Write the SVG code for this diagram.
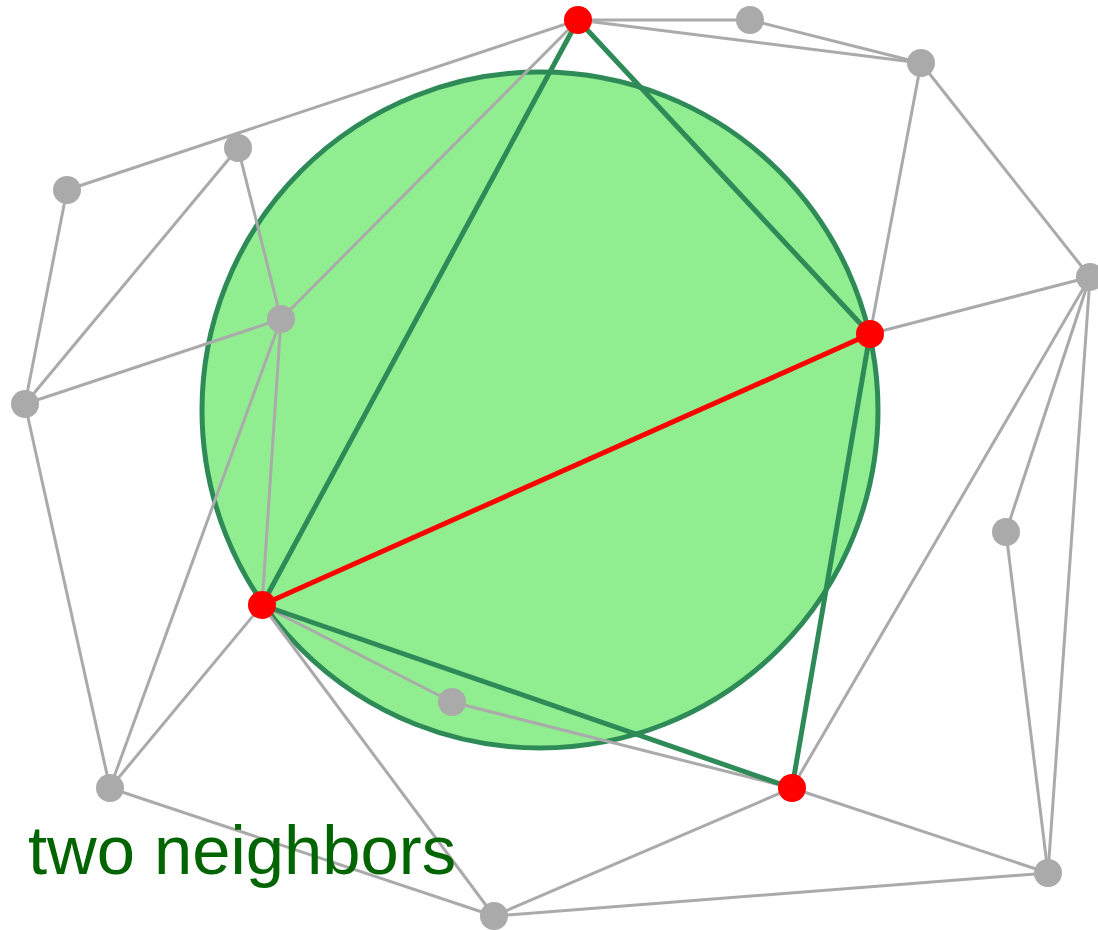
<svg xmlns="http://www.w3.org/2000/svg" width="1098" height="930" viewBox="0 0 1098 930">
<style>
.g{stroke:#aaaaaa;stroke-width:3;fill:none}
.t{stroke:#2e8b57;stroke-width:5;fill:none}
.r{stroke:#ff0000;stroke-width:5;fill:none}
.ng{fill:#aaaaaa}
.nr{fill:#ff0000}
.lbl{font-family:"Liberation Sans",Arial,sans-serif;font-size:68px;fill:#006400}
</style>
<rect width="1098" height="930" fill="#ffffff"/>
<g id="circle"><circle cx="540" cy="410" r="338" fill="#90ee90" stroke="#2e8b57" stroke-width="5"/></g>
<g id="connectors">
<line class="g" x1="578" y1="20" x2="750" y2="20"/>
<line class="g" x1="578" y1="20" x2="921" y2="63"/>
<line class="g" x1="750" y1="20" x2="921" y2="63"/>
<line class="g" x1="578" y1="20" x2="67" y2="190"/>
<line class="g" x1="578" y1="20" x2="281" y2="319"/>
<line class="g" x1="921" y1="63" x2="870" y2="334"/>
<line class="g" x1="921" y1="63" x2="1090" y2="277"/>
<line class="g" x1="870" y1="334" x2="1090" y2="277"/>
<line class="g" x1="1090" y1="277" x2="792" y2="788"/>
<line class="g" x1="1090" y1="277" x2="1006" y2="532"/>
<line class="g" x1="1090" y1="277" x2="1048" y2="873"/>
<line class="g" x1="1006" y1="532" x2="1048" y2="873"/>
<line class="g" x1="238" y1="148" x2="281" y2="319"/>
<line class="g" x1="238" y1="148" x2="25" y2="404"/>
<line class="g" x1="67" y1="190" x2="25" y2="404"/>
<line class="g" x1="281" y1="319" x2="25" y2="404"/>
<line class="g" x1="281" y1="319" x2="262" y2="605"/>
<line class="g" x1="281" y1="319" x2="110" y2="788"/>
<line class="g" x1="25" y1="404" x2="110" y2="788"/>
<line class="g" x1="262" y1="605" x2="110" y2="788"/>
<line class="g" x1="262" y1="605" x2="452" y2="702"/>
<line class="g" x1="262" y1="605" x2="494" y2="916"/>
<line class="g" x1="452" y1="702" x2="792" y2="788"/>
<line class="g" x1="110" y1="788" x2="494" y2="916"/>
<line class="g" x1="494" y1="916" x2="792" y2="788"/>
<line class="g" x1="494" y1="916" x2="1048" y2="873"/>
<line class="g" x1="792" y1="788" x2="1048" y2="873"/>
<line class="t" x1="578" y1="20" x2="262" y2="605"/>
<line class="t" x1="578" y1="20" x2="870" y2="334"/>
<line class="t" x1="870" y1="334" x2="792" y2="788"/>
<line class="t" x1="262" y1="605" x2="792" y2="788"/>
<line class="r" x1="262" y1="605" x2="870" y2="334"/>
</g>
<g id="nA"><circle class="nr" cx="578" cy="20" r="14"/></g>
<g id="nB"><circle class="ng" cx="750" cy="20" r="14"/></g>
<g id="nC"><circle class="ng" cx="921" cy="63" r="14"/></g>
<g id="nD"><circle class="ng" cx="238" cy="148" r="14"/></g>
<g id="nE"><circle class="ng" cx="67" cy="190" r="14"/></g>
<g id="nF"><circle class="ng" cx="281" cy="319" r="14"/></g>
<g id="nG"><circle class="ng" cx="1090" cy="277" r="14"/></g>
<g id="nH"><circle class="nr" cx="870" cy="334" r="14"/></g>
<g id="nI"><circle class="ng" cx="25" cy="404" r="14"/></g>
<g id="nJ"><circle class="ng" cx="1006" cy="532" r="14"/></g>
<g id="nK"><circle class="nr" cx="262" cy="605" r="14"/></g>
<g id="nL"><circle class="ng" cx="452" cy="702" r="14"/></g>
<g id="nM"><circle class="nr" cx="792" cy="788" r="14"/></g>
<g id="nN"><circle class="ng" cx="110" cy="788" r="14"/></g>
<g id="nO"><circle class="ng" cx="1048" cy="873" r="14"/></g>
<g id="nP"><circle class="ng" cx="494" cy="916" r="14"/></g>
<g id="label"><text class="lbl" x="28" y="874" textLength="428" lengthAdjust="spacingAndGlyphs">two neighbors</text></g>
</svg>
